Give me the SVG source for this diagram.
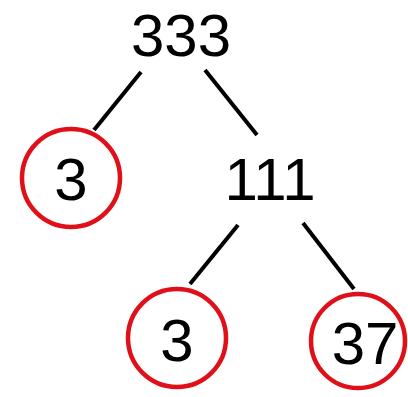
<svg xmlns="http://www.w3.org/2000/svg" width="408" height="397" viewBox="0 0 408 397">
<style>
.t{font-family:"Liberation Sans",Arial,sans-serif;font-size:60px;fill:#000;text-anchor:middle}
.c{fill:none;stroke:#e0101a;stroke-width:4.5}
.e{stroke:#000;stroke-width:4;stroke-linecap:butt}
</style>
<rect width="408" height="397" fill="#fff"/>
<g id="connectors">
<line class="e" x1="141" y1="72" x2="94" y2="130"/>
<line class="e" x1="205" y1="70" x2="257" y2="135"/>
<line class="e" x1="238" y1="225" x2="190" y2="284"/>
<line class="e" x1="303" y1="223" x2="354" y2="289"/>
</g>
<g id="n333"><text class="t" x="181" y="56">333</text></g>
<g id="n3a"><circle class="c" cx="71" cy="178" r="49"/><text class="t" x="71" y="200">3</text></g>
<g id="n111"><text class="t" x="270" y="200">111</text></g>
<g id="n3b"><circle class="c" cx="177" cy="338" r="49"/><text class="t" x="177" y="361">3</text></g>
<g id="n37"><circle class="c" cx="358" cy="341" r="47"/><text class="t" x="365" y="364">37</text></g>
</svg>
